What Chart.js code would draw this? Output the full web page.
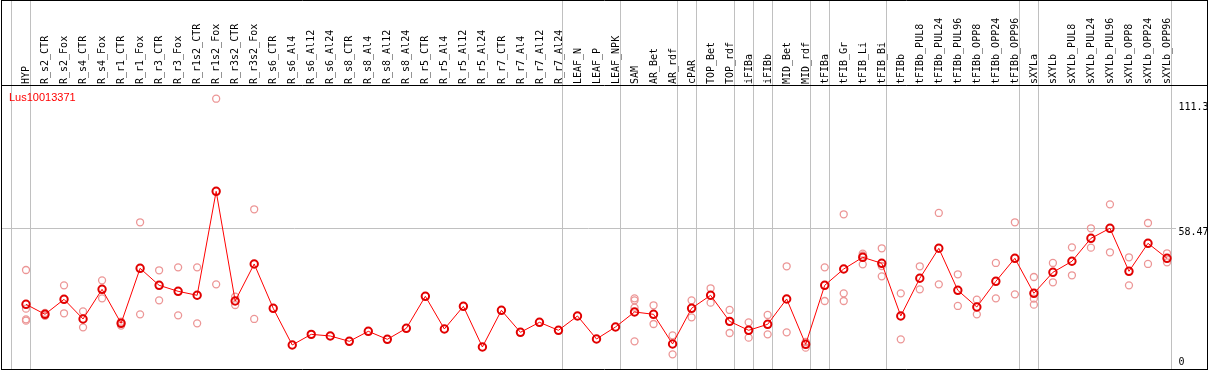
<!DOCTYPE html>
<html>
<head>
<meta charset="utf-8">
<title>Lus10013371</title>
<script src="https://cdn.jsdelivr.net/npm/chart.js@4.4.1/dist/chart.umd.min.js"></script>
<style>
  html, body { margin: 0; padding: 0; background: #fff; }
  canvas { display: block; }
</style>
</head>
<body>
<canvas id="expr" width="1209" height="370"></canvas>
<script>
const geneName = "Lus10013371";

const samples = [
  "HYP", "R_s2_CTR", "R_s2_Fox", "R_s4_CTR", "R_s4_Fox", "R_r1_CTR", "R_r1_Fox",
  "R_r3_CTR", "R_r3_Fox", "R_r1s2_CTR", "R_r1s2_Fox", "R_r3s2_CTR", "R_r3s2_Fox",
  "R_s6_CTR", "R_s6_Al4", "R_s6_Al12", "R_s6_Al24", "R_s8_CTR", "R_s8_Al4", "R_s8_Al12",
  "R_s8_Al24", "R_r5_CTR", "R_r5_Al4", "R_r5_Al12", "R_r5_Al24", "R_r7_CTR", "R_r7_Al4",
  "R_r7_Al12", "R_r7_Al24", "LEAF_N", "LEAF_P", "LEAF_NPK", "SAM", "AR_Bet", "AR_rdf",
  "cPAR", "TOP_Bet", "TOP_rdf", "iFIBa", "iFIBb", "MID_Bet", "MID_rdf", "tFIBa",
  "tFIB_Gr", "tFIB_Li", "tFIB_Bi", "tFIBb", "tFIBb_PUL8", "tFIBb_PUL24", "tFIBb_PUL96",
  "tFIBb_OPP8", "tFIBb_OPP24", "tFIBb_OPP96", "sXYLa", "sXYLb", "sXYLb_PUL8",
  "sXYLb_PUL24", "sXYLb_PUL96", "sXYLb_OPP8", "sXYLb_OPP24", "sXYLb_OPP96"
];

// mean expression per sample
const means = [
  27.49, 23.41, 29.52, 21.51, 33.6, 19.74, 42.16, 35.23, 32.79, 31.16,
  73.55, 28.84, 43.93, 25.86, 10.91, 15.25, 14.57, 12.4, 16.48, 13.22,
  17.7, 30.75, 17.43, 26.67, 10.09, 25.04, 16.07, 20.15, 16.89, 22.73,
  13.35, 18.24, 24.36, 23.41, 11.31, 25.86, 31.16, 20.55, 16.89, 19.33,
  29.66, 11.18, 35.23, 41.89, 46.65, 44.2, 22.73, 38.09, 50.32, 33.19,
  26.4, 36.86, 46.24, 31.97, 40.53, 45.02, 54.39, 58.47, 40.94, 52.35,
  46.24
];

// single replicates per sample (empty where none are shown)
const replicates = [
  [41.48, 25.72, 21.37, 20.83], [24.0, 22.8], [35.23, 23.82], [24.63, 18.11],
  [37.27, 29.93], [20.4, 18.8], [60.92, 23.41], [41.35, 29.11], [42.57, 23.0],
  [42.57, 19.74], [111.3, 35.64], [30.6, 27.2], [66.22, 21.51],
  [], [], [], [], [], [], [], [], [], [], [], [], [], [], [], [], [], [], [],
  [29.93, 29.11, 26.13, 12.4], [27.08, 19.47], [14.85, 7.1], [29.11, 22.18],
  [34.01, 28.16], [25.18, 15.8], [20.15, 13.9], [23.14, 15.25], [42.98, 16.07],
  [12.13, 9.82], [42.57, 28.84], [64.18, 31.97, 28.84], [48.14, 47.46, 43.79],
  [50.32, 43.11, 38.9], [31.97, 13.22], [42.98, 33.6], [64.72, 35.64],
  [39.72, 26.81], [29.38, 23.41], [44.34, 29.93], [60.92, 31.56],
  [38.63, 29.8, 27.35], [44.34, 36.46], [50.72, 39.31], [58.47, 50.59],
  [68.25, 48.69], [46.65, 35.23], [60.64, 43.93], [48.28, 44.61]
];

const yTickValues = [111.3, 58.47, 0];
const yTickLabels = ["111.3", "58.47", "0"];
const refLine = 58.47;

// last sample index of each tissue group (a separator is drawn after it)
const groupEnds = [-1, 0, 28, 31, 34, 35, 37, 38, 39, 41, 42, 45, 52, 53, 60];

const meanPoints = means.map((v, i) => ({ x: i, y: v }));
const repPoints = [];
replicates.forEach((vals, i) => vals.forEach(v => repPoints.push({ x: i, y: v })));

const framePlugin = {
  id: "frame",
  beforeDatasetsDraw(chart) {
    const ctx = chart.ctx;
    const xs = chart.scales.x;
    ctx.save();
    ctx.strokeStyle = "#c0c0c0";
    ctx.lineWidth = 1;
    groupEnds.forEach(i => {
      const px = Math.round(xs.getPixelForValue(i + 0.21)) + 0.5;
      ctx.beginPath();
      ctx.moveTo(px, 0);
      ctx.lineTo(px, chart.chartArea.bottom);
      ctx.stroke();
    });
    ctx.restore();
  },
  afterDraw(chart) {
    const ctx = chart.ctx;
    const area = chart.chartArea;
    const ys = chart.scales.y;
    ctx.save();
    // outer box and header rule
    ctx.strokeStyle = "#000";
    ctx.lineWidth = 1;
    ctx.beginPath();
    ctx.moveTo(1, 0.5); ctx.lineTo(1208, 0.5);
    ctx.moveTo(1, 85.5); ctx.lineTo(1208, 85.5);
    ctx.moveTo(1, 369.5); ctx.lineTo(1208, 369.5);
    ctx.moveTo(1.5, 0); ctx.lineTo(1.5, 370);
    ctx.moveTo(1207.5, 0); ctx.lineTo(1207.5, 370);
    ctx.stroke();

    // gene name
    ctx.fillStyle = "#ff0000";
    ctx.font = "11px 'Liberation Sans', Arial, sans-serif";
    ctx.textAlign = "left";
    ctx.textBaseline = "alphabetic";
    ctx.fillText(geneName, 9, 101);

    // value labels on the right
    ctx.fillStyle = "#000";
    ctx.font = "10px 'DejaVu Sans Mono', monospace";
    ctx.textBaseline = "middle";
    yTickValues.forEach((v, k) => {
      let py = ys.getPixelForValue(v) + 4.4;
      py = Math.max(area.top + 21.7, Math.min(area.bottom - 7, py));
      ctx.fillText(yTickLabels[k], area.right + 2.5, py);
    });
    ctx.restore();
  }
};

new Chart(document.getElementById("expr"), {
  type: "scatter",
  data: {
    datasets: [
      {
        type: "line",
        data: meanPoints,
        borderColor: "rgb(255,0,0)",
        borderWidth: 1,
        tension: 0,
        pointRadius: 3.7,
        pointBorderWidth: 2,
        pointBorderColor: "rgb(225,0,0)",
        pointBackgroundColor: "rgba(0,0,0,0)",
        order: 1
      },
      {
        type: "scatter",
        data: repPoints,
        pointRadius: 3.5,
        pointBorderWidth: 1.3,
        pointBorderColor: "rgb(236,150,150)",
        pointBackgroundColor: "rgba(0,0,0,0)",
        order: 2
      }
    ]
  },
  options: {
    responsive: false,
    animation: false,
    devicePixelRatio: 1,
    events: [],
    layout: { autoPadding: false, padding: { left: 1, right: 0, top: 0, bottom: 1 } },
    plugins: {
      legend: { display: false },
      tooltip: { enabled: false }
    },
    scales: {
      x: {
        type: "linear",
        position: "top",
        min: -1.3146,
        max: 60.473,
        afterBuildTicks: scale => {
          scale.ticks = samples.map((s, i) => ({ value: i }));
        },
        afterFit: scale => {
          scale.height = 86;
          scale.paddingLeft = 0;
          scale.paddingRight = 0;
        },
        grid: { display: false, drawTicks: false },
        border: { display: false },
        ticks: {
          autoSkip: false,
          minRotation: 90,
          maxRotation: 90,
          padding: 2,
          labelOffset: 12.5,
          color: "#000",
          font: { family: "'DejaVu Sans Mono', monospace", size: 10 },
          callback: value => samples[value]
        }
      },
      y: {
        type: "linear",
        position: "right",
        min: 1.117,
        max: 116.48,
        afterBuildTicks: scale => {
          scale.ticks = [{ value: refLine }];
        },
        afterFit: scale => { scale.width = 33; },
        grid: { color: "#c0c0c0", drawTicks: false },
        border: { display: false },
        ticks: { display: false }
      }
    }
  },
  plugins: [framePlugin]
});
</script>
</body>
</html>
